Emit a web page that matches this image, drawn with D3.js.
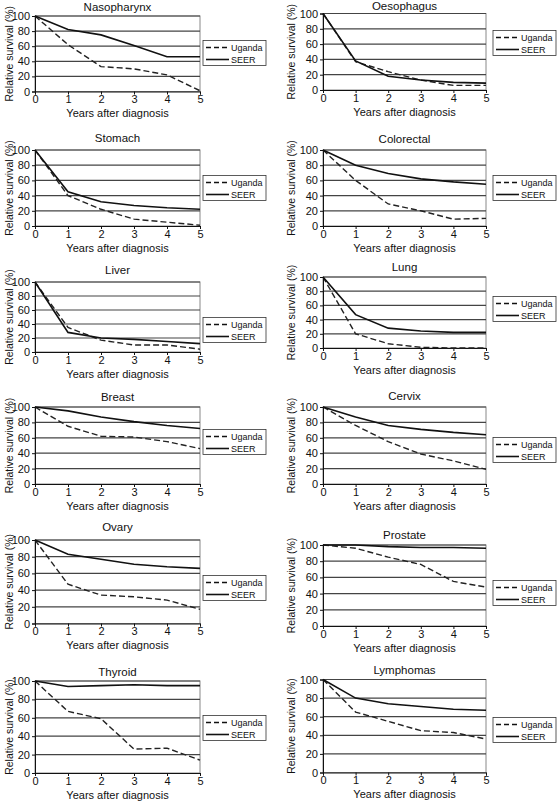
<!DOCTYPE html>
<html><head><meta charset="utf-8">
<script src="https://cdn.jsdelivr.net/npm/d3@7"></script>
<style>body{margin:0;background:#fff}svg{display:block;font-family:"Liberation Sans",Arial,sans-serif}</style>
</head><body><svg id="c" width="557" height="801"></svg>
<script>
const years = [0, 1, 2, 3, 4, 5];
const yTicks = [0, 20, 40, 60, 80, 100];
const seriesNames = ["Uganda", "SEER"];
const sites = ["Nasopharynx","Oesophagus","Stomach","Colorectal","Liver","Lung","Breast","Cervix","Ovary","Prostate","Thyroid","Lymphomas"];
const uganda = {
  Nasopharynx: [100, 62, 33, 30, 22, 1],
  Oesophagus:  [100, 37, 24, 13, 6, 6],
  Stomach:     [100, 40, 22, 9, 5, 1],
  Colorectal:  [100, 60, 29, 20, 9, 10],
  Liver:       [100, 35, 17, 10, 10, 4],
  Lung:        [100, 20, 6, 1, 0, 0],
  Breast:      [100, 75, 62, 61, 55, 46],
  Cervix:      [100, 76, 55, 39, 30, 19],
  Ovary:       [100, 47, 34, 32, 28, 17],
  Prostate:    [100, 96, 85, 76, 55, 48],
  Thyroid:     [100, 67, 59, 26, 27, 14],
  Lymphomas:   [100, 65, 55, 45, 43, 36]
};
const seer = {
  Nasopharynx: [100, 82, 75, 61, 46, 46],
  Oesophagus:  [100, 38, 18, 13, 10, 9],
  Stomach:     [100, 45, 32, 27, 24, 22],
  Colorectal:  [100, 80, 69, 62, 58, 55],
  Liver:       [100, 28, 20, 18, 15, 12],
  Lung:        [100, 47, 28, 24, 22, 22],
  Breast:      [100, 95, 87, 81, 76, 72],
  Cervix:      [100, 87, 76, 71, 67, 64],
  Ovary:       [100, 83, 77, 71, 68, 66],
  Prostate:    [100, 100, 98, 97, 97, 96],
  Thyroid:     [100, 94, 95, 96, 95, 95],
  Lymphomas:   [100, 80, 74, 71, 68, 67]
};

// layout (pixel geometry only)
const cols = [{x0: 35, x1: 200, lx: 203, yl: 9}, {x0: 323, x1: 486, lx: 493, yl: 291}];
const rows = [
  [{top: 16, bot: 91.5, leg: 53, ty: 11}, {top: 13.5, bot: 90, leg: 43, ty: 10}],
  [{top: 150, bot: 226, leg: 188, ty: 142}, {top: 150, bot: 226, leg: 188, ty: 143}],
  [{top: 282, bot: 352, leg: 330, ty: 274}, {top: 277, bot: 348, leg: 309, ty: 271}],
  [{top: 407, bot: 484, leg: 442, ty: 401}, {top: 407, bot: 484, leg: 450, ty: 400}],
  [{top: 540, bot: 623.5, leg: 588, ty: 531}, {top: 545, bot: 626, leg: 593, ty: 539}],
  [{top: 681, bot: 773, leg: 728, ty: 676}, {top: 679.5, bot: 772.5, leg: 730, ty: 674}]
];

const svg = d3.select("#c");
sites.forEach((site, i) => {
  const c = cols[i % 2], r = rows[Math.floor(i / 2)][i % 2];
  const x = d3.scaleLinear().domain([0, 5]).range([c.x0, c.x1]);
  const y = d3.scaleLinear().domain([0, 100]).range([r.bot, r.top]);
  const g = svg.append("g");
  g.append("rect").attr("x", c.x0).attr("y", r.top).attr("width", c.x1 - c.x0).attr("height", r.bot - r.top)
    .attr("fill", "none").attr("stroke", "#888").attr("stroke-width", 1);
  g.selectAll("line.grid").data(yTicks.filter(t => t > 0)).enter().append("line")
    .attr("x1", c.x0).attr("x2", c.x1).attr("y1", d => y(d)).attr("y2", d => y(d))
    .attr("stroke", "#444").attr("stroke-width", 1.2);
  const ya = d3.axisLeft(y).tickValues(yTicks).tickFormat(d3.format("d")).tickSize(3).tickPadding(2);
  const xa = d3.axisBottom(x).tickValues(years).tickFormat(d3.format("d")).tickSize(3).tickPadding(1);
  const gy = g.append("g").attr("transform", `translate(${c.x0},0)`).call(ya);
  const gx = g.append("g").attr("transform", `translate(0,${r.bot})`).call(xa);
  [gy, gx].forEach(a => {
    a.selectAll("text").attr("font-size", 11).attr("fill", "#111").attr("font-family", "Liberation Sans, Arial, sans-serif");
    a.select(".domain").attr("stroke", "#111");
    a.selectAll(".tick line").attr("stroke", "#111");
  });
  g.append("text").attr("x", (c.x0 + c.x1) / 2).attr("y", r.ty).attr("text-anchor", "middle")
    .attr("font-size", 11.5).attr("fill", "#111").text(site);
  g.append("text").attr("x", (c.x0 + c.x1) / 2).attr("y", r.bot + 25.5).attr("text-anchor", "middle")
    .attr("font-size", 11).attr("fill", "#111").text("Years after diagnosis");
  g.append("text").attr("transform", `translate(${c.yl + 3.5},${(r.top + r.bot) / 2}) rotate(-90)`)
    .attr("text-anchor", "middle").attr("font-size", 10.5).attr("fill", "#111").text("Relative survival (%)");
  const line = d3.line().x((d, j) => x(years[j])).y(d => y(d)).curve(d3.curveLinear);
  g.append("path").datum(uganda[site]).attr("d", line).attr("fill", "none")
    .attr("stroke", "#222").attr("stroke-width", 1.4).attr("stroke-dasharray", "6,3");
  g.append("path").datum(seer[site]).attr("d", line).attr("fill", "none")
    .attr("stroke", "#111").attr("stroke-width", 1.6);
  const lg = g.append("g").attr("transform", `translate(${c.lx},${r.leg - 12.5})`);
  lg.append("rect").attr("width", 63).attr("height", 25).attr("fill", "#fff").attr("stroke", "#333").attr("stroke-width", 0.8);
  seriesNames.forEach((n, k) => {
    const yy = 7 + k * 12;
    lg.append("line").attr("x1", 3).attr("x2", 26).attr("y1", yy).attr("y2", yy)
      .attr("stroke", "#111").attr("stroke-width", k ? 1.6 : 1.4).attr("stroke-dasharray", k ? null : "5,3");
    lg.append("text").attr("x", 28).attr("y", yy + 3).attr("font-size", 9).attr("fill", "#111").text(n);
  });
});
</script></body></html>
